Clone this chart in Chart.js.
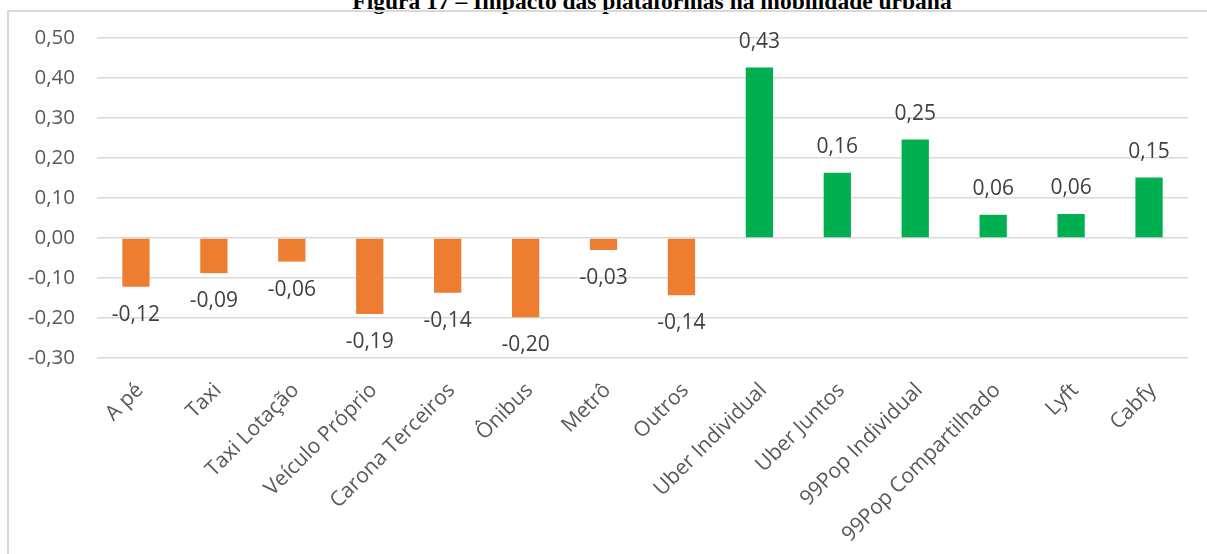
<!DOCTYPE html>
<html>
<head>
<meta charset="utf-8">
<script src="https://cdn.jsdelivr.net/npm/chart.js@4.4.1/dist/chart.umd.min.js"></script>
<style>
    html, body { margin: 0; padding: 0; background: #fff; overflow: hidden; }
    #wrap { position: relative; width: 1207px; height: 554px; overflow: hidden; }
    #frame { position: absolute; left: 7px; top: 10px; width: 1400px; height: 700px; border: 2px solid #d9d9d9; box-sizing: border-box; }
    #title { position: absolute; left: 352px; top: -12px; width: 600px; text-align: center; white-space: nowrap;
             font: bold 23.5px "Liberation Serif", "Times New Roman", serif; color: #000; }
    canvas { position: absolute; left: 0; top: 0; }
</style>
</head>
<body>
<div id="wrap">
    <div id="title">Figura 17 – Impacto das plataformas na mobilidade urbana</div>
    <div id="frame"></div>
    <canvas id="impactChart" width="1207" height="554"></canvas>
</div>
<script>
// Chart data
const categories = ['A pé', 'Taxi', 'Taxi Lotação', 'Veículo Próprio', 'Carona Terceiros', 'Ônibus', 'Metrô', 'Outros',
    'Uber Individual', 'Uber Juntos', '99Pop Individual', '99Pop Compartilhado', 'Lyft', 'Cabfy'];
const impactValues = [-0.122, -0.088, -0.059, -0.19, -0.137, -0.198, -0.03, -0.143,
    0.426, 0.163, 0.246, 0.058, 0.06, 0.151];
const yTicks = [-0.3, -0.2, -0.1, 0, 0.1, 0.2, 0.3, 0.4, 0.5];

const colors = {
    negative: '#ED7D31', // orange
    positive: '#00B050', // green
    grid: '#d9d9d9',
    tick: '#595959',
    label: '#404040'
};

function fmt(v) {
    return v.toFixed(2).replace('.', ',');
}

// value labels beyond the end of each bar
const valueLabels = {
    id: 'valueLabels',
    afterDatasetsDraw(chart) {
        const ctx = chart.ctx;
        const meta = chart.getDatasetMeta(0);
        ctx.save();
        ctx.font = '21px "Open Sans"';
        ctx.fillStyle = colors.label;
        ctx.textAlign = 'center';
        ctx.textBaseline = 'middle';
        meta.data.forEach((bar, i) => {
            const v = impactValues[i];
            const y = v < 0 ? bar.y + 28 : bar.y - 26;
            ctx.fillText(fmt(v), bar.x, y);
        });
        ctx.restore();
    }
};

const ctx = document.getElementById('impactChart').getContext('2d');
new Chart(ctx, {
    type: 'bar',
    data: {
        labels: categories,
        datasets: [{
            data: impactValues,
            backgroundColor: impactValues.map(v => v < 0 ? colors.negative : colors.positive),
            borderWidth: 0,
            barPercentage: 0.35,
            categoryPercentage: 1
        }]
    },
    options: {
        responsive: false,
        animation: false,
        layout: { padding: { top: 38, right: 19, bottom: 0, left: 0 } },
        plugins: {
            legend: { display: false },
            tooltip: { enabled: false }
        },
        scales: {
            x: {
                grid: { display: false },
                border: { display: false },
                ticks: {
                    color: colors.tick,
                    font: { family: 'Open Sans', size: 21 },
                    minRotation: 45,
                    maxRotation: 45,
                    padding: 12,
                    labelOffset: 4,
                    autoSkip: false
                },
                afterFit(scale) { scale.height = 196; }
            },
            y: {
                min: -0.3,
                max: 0.5,
                afterBuildTicks(scale) { scale.ticks = yTicks.map(v => ({ value: v })); },
                grid: { color: colors.grid, lineWidth: 1.5, drawTicks: false },
                border: { display: false },
                ticks: {
                    color: colors.tick,
                    font: { family: 'Open Sans', size: 20.5 },
                    padding: 22,
                    callback: v => fmt(v)
                },
                afterFit(scale) { scale.width = 97; }
            }
        }
    },
    plugins: [valueLabels]
});
</script>
</body>
</html>
